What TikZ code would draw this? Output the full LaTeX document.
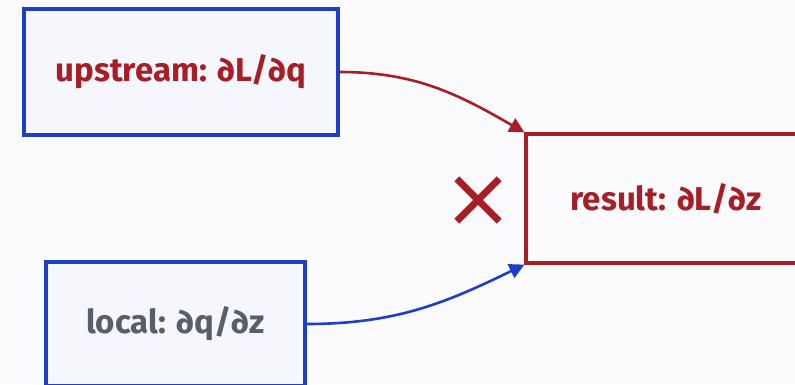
\documentclass[tikz,border=0pt]{standalone}
\usepackage{fontspec}
\setmainfont{Fira Sans}
\usetikzlibrary{arrows.meta}
\definecolor{gblue}{RGB}{28,62,200}
\definecolor{gred}{RGB}{168,30,38}
\definecolor{ggray}{RGB}{88,94,108}
\definecolor{gfill}{RGB}{246,247,252}
\definecolor{gbg}{RGB}{251,251,253}

\begin{document}
\begin{tikzpicture}[
  x=1pt,y=1pt,
  font=\fontsize{33}{36}\selectfont\bfseries,
  term/.style={rectangle,draw=gblue,line width=3.2pt,fill=gfill,inner sep=0pt},
  res/.style={rectangle,draw=gred,line width=3.2pt,fill=gbg,inner sep=0pt},
  flow/.style={-{Triangle[length=15pt,width=15pt]},line width=2.6pt},
]
\fill[gbg] (0,0) rectangle (795,384);
\useasboundingbox (0,0) rectangle (795,384);
\clip (0,0) rectangle (795,384);
% the two incoming factors
\node[term,minimum width=314pt,minimum height=126pt,text=gred] (up) at (181,312) {upstream: ∂L/∂q};
\node[term,minimum width=259pt,minimum height=124pt,text=ggray] (loc) at (175.5,60) {local: ∂q/∂z};
% the product
\node[res,minimum width=280pt,minimum height=129pt,text=gred] (out) at (666,185.5) {result: ∂L/∂z};
\draw[flow,gred] (up.east) to[out=0,in=150] (out.north west);
\draw[flow,gblue] (loc.east) to[out=0,in=206] (out.south west);
% multiply sign
\node[inner sep=0pt,minimum size=42pt] (mul) at (478,184) {};
\draw[gred,line width=7pt] (mul.north west) -- (mul.south east) (mul.south west) -- (mul.north east);
\end{tikzpicture}
\end{document}
